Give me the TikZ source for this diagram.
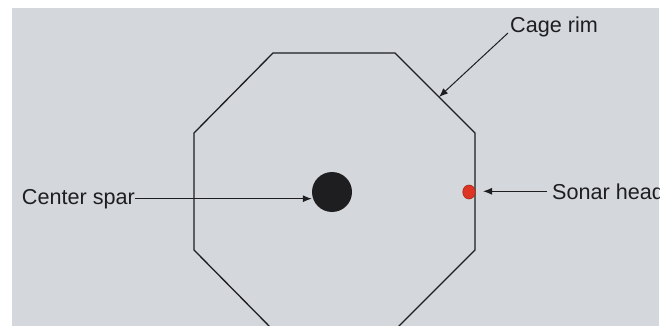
\documentclass[tikz,border=0pt]{standalone}
\usepackage{fontspec}
\setmainfont{Liberation Sans}
\usepackage{tikz}
\usetikzlibrary{arrows.meta, positioning, calc, shapes.geometric}
\definecolor{mybg}{RGB}{212,215,219}
\definecolor{mydark}{RGB}{30,30,33}
\definecolor{myred}{RGB}{222,52,36}
\tikzset{
  rimline/.style={line width=1.3pt, color=mydark, line join=miter},
  arrow/.style={-{Latex[length=9pt, width=7pt]}, line width=1pt, color=mydark},
  lbl/.style={inner sep=0pt, font=\fontsize{21.6}{26}\selectfont, text=mydark},
  spardot/.style={circle, fill=mydark, minimum size=40pt, inner sep=0pt},
  sonardot/.style={ellipse, fill=myred, draw=myred!75!black, line width=0.6pt,
    minimum width=12.5pt, minimum height=14pt, inner sep=0pt}
}

\begin{document}
\begin{tikzpicture}[x=1pt, y=-1pt]
  \useasboundingbox (0,0) rectangle (669,326);
  \fill[mybg] (12,8) rectangle (659,326);
  \begin{scope}
    \clip (12,8) rectangle (659,326);
    % Cage rim (octagon, bottom edge runs off the frame)
    \draw[rimline] (273,53) -- (395,53) -- (475,133) -- (475,250) -- (394,331)
      -- (274,331) -- (194,250) -- (194,133) -- cycle;
    \coordinate (rim) at (439,97);

    % Center spar and sonar head
    \node[spardot] (spar) at (332,192) {};
    \node[sonardot] (sonar) at (469,192) {};

    % Labels
    \node[lbl, anchor=base east] (spartxt) at (135,204) {Center spar};
    \node[lbl, anchor=base west] (sonartxt) at (552,199) {Sonar head};
    \node[lbl, anchor=base west] (rimtxt) at (510,33) {Cage rim};

    \draw[arrow] (spartxt.east) -- (spartxt.east -| spar.west);
    \draw[arrow, shorten <=5pt, shorten >=7.5pt] (sonartxt.west) -- (sonartxt.west -| sonar.east);
    \draw[arrow] ([xshift=-2pt]rimtxt.base west) -- (rim);
  \end{scope}
\end{tikzpicture}
\end{document}
